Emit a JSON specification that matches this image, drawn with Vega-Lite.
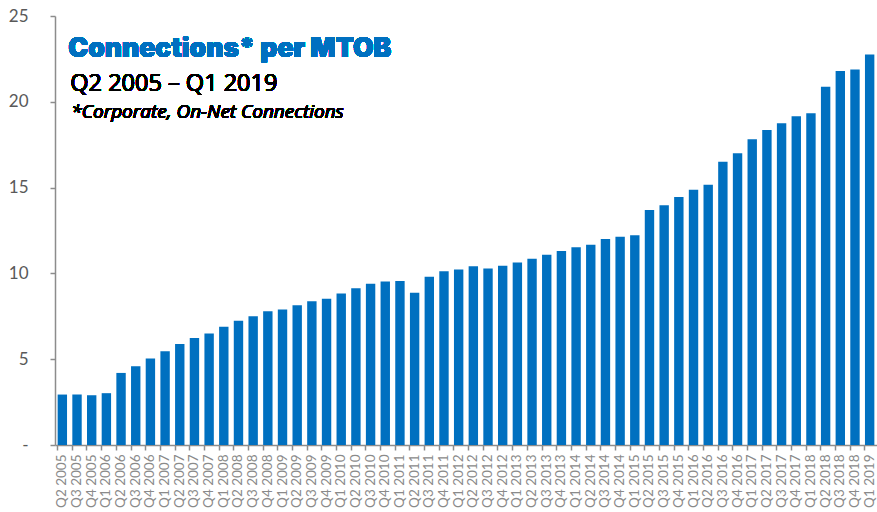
{
  "$schema": "https://vega.github.io/schema/vega-lite/v6.json",
  "width": 822,
  "height": 429,
  "autosize": {"type": "none"},
  "padding": {"left": 55, "top": 16, "right": 0, "bottom": 67},
  "background": "white",
  "config": {"view": {"stroke": null}},
  "data": {"values": [
    {"q": "Q2 2005", "v": 2.94}, {"q": "Q3 2005", "v": 2.94}, {"q": "Q4 2005", "v": 2.90}, {"q": "Q1 2006", "v": 3.02},
    {"q": "Q2 2006", "v": 4.20}, {"q": "Q3 2006", "v": 4.59}, {"q": "Q4 2006", "v": 5.04}, {"q": "Q1 2007", "v": 5.47},
    {"q": "Q2 2007", "v": 5.89}, {"q": "Q3 2007", "v": 6.24}, {"q": "Q4 2007", "v": 6.50}, {"q": "Q1 2008", "v": 6.89},
    {"q": "Q2 2008", "v": 7.24}, {"q": "Q3 2008", "v": 7.51}, {"q": "Q4 2008", "v": 7.80}, {"q": "Q1 2009", "v": 7.90},
    {"q": "Q2 2009", "v": 8.15}, {"q": "Q3 2009", "v": 8.37}, {"q": "Q4 2009", "v": 8.52}, {"q": "Q1 2010", "v": 8.83},
    {"q": "Q2 2010", "v": 9.14}, {"q": "Q3 2010", "v": 9.39}, {"q": "Q4 2010", "v": 9.53}, {"q": "Q1 2011", "v": 9.55},
    {"q": "Q2 2011", "v": 8.87}, {"q": "Q3 2011", "v": 9.80}, {"q": "Q4 2011", "v": 10.13}, {"q": "Q1 2012", "v": 10.23},
    {"q": "Q2 2012", "v": 10.41}, {"q": "Q3 2012", "v": 10.29}, {"q": "Q4 2012", "v": 10.45}, {"q": "Q1 2013", "v": 10.64},
    {"q": "Q2 2013", "v": 10.85}, {"q": "Q3 2013", "v": 11.09}, {"q": "Q4 2013", "v": 11.30}, {"q": "Q1 2014", "v": 11.53},
    {"q": "Q2 2014", "v": 11.67}, {"q": "Q3 2014", "v": 12.00}, {"q": "Q4 2014", "v": 12.14}, {"q": "Q1 2015", "v": 12.22},
    {"q": "Q2 2015", "v": 13.69}, {"q": "Q3 2015", "v": 13.97}, {"q": "Q4 2015", "v": 14.45}, {"q": "Q1 2016", "v": 14.88},
    {"q": "Q2 2016", "v": 15.17}, {"q": "Q3 2016", "v": 16.51}, {"q": "Q4 2016", "v": 17.00}, {"q": "Q1 2017", "v": 17.82},
    {"q": "Q2 2017", "v": 18.36}, {"q": "Q3 2017", "v": 18.75}, {"q": "Q4 2017", "v": 19.16}, {"q": "Q1 2018", "v": 19.33},
    {"q": "Q2 2018", "v": 20.87}, {"q": "Q3 2018", "v": 21.80}, {"q": "Q4 2018", "v": 21.88}, {"q": "Q1 2019", "v": 22.75}
  ]},
  "layer": [
    {
      "mark": {"type": "bar", "color": "#0070C0"},
      "encoding": {
        "x": {
          "field": "q", "type": "nominal", "sort": null, "title": null,
          "scale": {"paddingInner": 0.36, "paddingOuter": 0.18},
          "axis": {
            "bandPosition": 0,
            "labelAngle": -90, "labelAlign": "right", "labelBaseline": "middle",
            "labelFont": "Lato", "labelFontSize": 13.5, "labelColor": "#8a8a8a",
            "labelPadding": 4,
            "domainColor": "#8c8c8c", "domainWidth": 1.5,
            "tickColor": "#8c8c8c", "tickSize": 5, "tickWidth": 1.5
          }
        },
        "y": {
          "field": "v", "type": "quantitative", "title": null,
          "scale": {"domain": [0, 25], "nice": false},
          "axis": {
            "values": [0, 5, 10, 15, 20, 25],
            "labelExpr": "datum.value == 0 ? '-\u00a0\u00a0' : datum.label",
            "labelFont": "Lato", "labelFontSize": 17, "labelColor": "#595959",
            "labelPadding": 22, "grid": false,
            "domainColor": "#8c8c8c", "domainWidth": 1.5,
            "tickColor": "#8c8c8c", "tickSize": 5, "tickWidth": 1.5
          }
        }
      }
    },
    {
      "mark": {"type": "text", "text": "Connections* per MTOB", "align": "left", "baseline": "alphabetic", "dx": 6,
               "font": "Inter", "fontWeight": 900, "fontSize": 26.5, "fill": "#0070C0"},
      "encoding": {"x": {"datum": "Q2 2005"}, "y": {"datum": 22.62}}
    },
    {
      "mark": {"type": "text", "text": "Q2 2005 – Q1 2019", "align": "left", "baseline": "alphabetic", "dx": 8,
               "font": "Open Sans", "fontWeight": 400, "fontSize": 23.5, "fill": "#000000"},
      "encoding": {"x": {"datum": "Q2 2005"}, "y": {"datum": 20.64}}
    },
    {
      "mark": {"type": "text", "text": "*Corporate, On-Net Connections", "align": "left", "baseline": "alphabetic", "dx": 9,
               "font": "Open Sans", "fontWeight": 400, "fontStyle": "italic", "fontSize": 19, "fill": "#000000"},
      "encoding": {"x": {"datum": "Q2 2005"}, "y": {"datum": 19.06}}
    }
  ]
}
